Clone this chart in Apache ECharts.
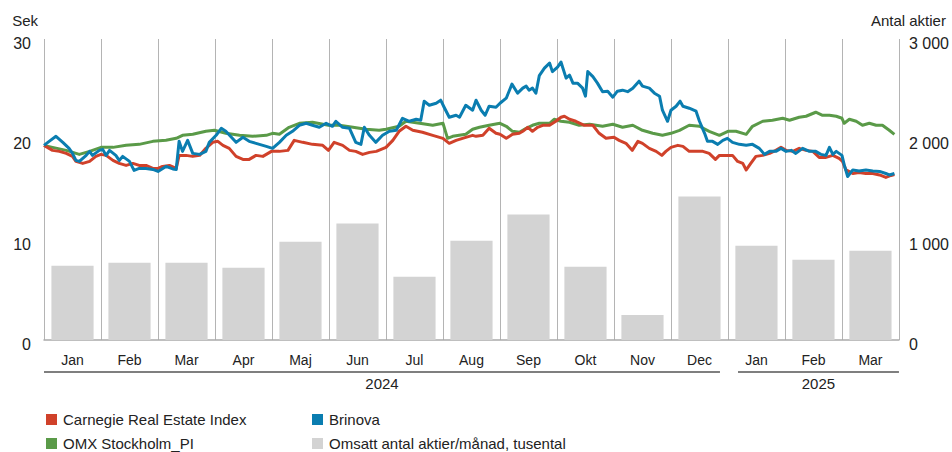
<!DOCTYPE html>
<html>
<head>
<meta charset="utf-8">
<script src="https://cdn.jsdelivr.net/npm/echarts@6/dist/echarts.min.js"></script>
<style>
html,body{margin:0;padding:0;background:#fff;}
#c{width:952px;height:452px;}
</style>
</head>
<body>
<div id="c"></div>
<script>
// ---- Data ----
const months = ['Jan','Feb','Mar','Apr','Maj','Jun','Jul','Aug','Sep','Okt','Nov','Dec','Jan','Feb','Mar'];
const years = [{label:'2024', from:0, to:12}, {label:'2025', from:12, to:15}];
const leftTicks = [0, 10, 20, 30];
const rightTicks = [0, 1000, 2000, 3000];
// Monthly turnover, thousands of shares
const volume = [740, 770, 770, 720, 980, 1160, 630, 990, 1250, 730, 250, 1430, 940, 800, 890];
// [months since 1 Jan 2024, SEK]
const carnegie = [[0,19.4],[0.15,18.9],[0.27,18.8],[0.39,18.6],[0.50,18.3],[0.56,17.8],[0.68,17.6],[0.80,17.8],[0.91,18.3],[1.0,18.5],[1.09,18.4],[1.21,17.9],[1.32,17.6],[1.44,17.4],[1.56,17.6],[1.67,17.4],[1.79,17.4],[1.91,17.1],[2.0,17.1],[2.08,17.3],[2.20,17.4],[2.32,17.1],[2.37,18.4],[2.49,18.4],[2.61,18.3],[2.73,18.4],[2.84,19.1],[2.96,19.7],[3.05,19.8],[3.14,19.4],[3.25,19.1],[3.37,18.3],[3.49,18.0],[3.60,18.0],[3.72,18.4],[3.84,18.3],[3.99,18.8],[4.13,18.8],[4.28,18.9],[4.39,19.9],[4.54,19.7],[4.71,19.5],[4.89,19.4],[4.99,18.9],[5.09,19.7],[5.24,19.4],[5.36,18.9],[5.47,18.8],[5.59,18.5],[5.71,18.7],[5.83,18.8],[6.0,19.2],[6.12,19.9],[6.23,20.8],[6.35,21.3],[6.47,20.9],[6.64,20.7],[6.82,20.4],[7.0,20.1],[7.11,19.6],[7.23,19.9],[7.40,20.2],[7.52,20.4],[7.58,20.3],[7.70,20.4],[7.81,21.1],[7.93,20.6],[8.0,20.5],[8.11,20.1],[8.22,20.5],[8.34,20.6],[8.40,20.8],[8.49,21.2],[8.57,20.8],[8.66,21.2],[8.75,21.4],[8.87,21.4],[8.98,21.8],[9.07,22.2],[9.13,22.3],[9.22,22.0],[9.33,21.8],[9.48,21.4],[9.63,21.4],[9.74,20.6],[9.86,20.1],[10.0,20.2],[10.09,19.9],[10.21,19.6],[10.32,18.9],[10.42,19.8],[10.50,19.6],[10.62,19.1],[10.74,18.8],[10.84,18.4],[10.91,18.8],[11.0,19.2],[11.12,19.4],[11.21,19.3],[11.32,18.8],[11.44,18.8],[11.56,18.8],[11.67,18.6],[11.78,18.0],[11.85,18.4],[12.0,18.4],[12.08,18.4],[12.17,17.8],[12.26,17.6],[12.32,16.95],[12.40,17.6],[12.49,18.3],[12.61,18.4],[12.73,18.6],[12.84,18.9],[12.93,19.2],[13.02,18.9],[13.14,18.8],[13.25,19.1],[13.37,18.9],[13.49,18.8],[13.60,18.2],[13.72,18.2],[13.84,18.4],[13.95,18.1],[14.01,17.8],[14.07,16.95],[14.19,16.6],[14.30,16.7],[14.42,16.6],[14.54,16.6],[14.66,16.45],[14.77,16.2],[14.86,16.4],[14.92,16.5]];
const omx = [[0,19.4],[0.15,19.2],[0.39,18.9],[0.62,18.5],[0.80,18.8],[1.0,19.2],[1.21,19.2],[1.44,19.4],[1.67,19.5],[1.91,19.8],[2.14,19.9],[2.32,20.1],[2.43,20.4],[2.61,20.5],[2.84,20.8],[2.99,20.9],[3.19,20.6],[3.43,20.4],[3.66,20.3],[3.90,20.4],[4.01,20.6],[4.13,20.5],[4.30,21.2],[4.48,21.6],[4.71,21.7],[4.99,21.4],[5.18,21.4],[5.42,21.2],[5.65,21.0],[5.88,20.9],[6.0,21.0],[6.23,21.3],[6.35,21.8],[6.59,21.6],[6.82,21.4],[7.0,21.6],[7.08,20.1],[7.17,20.3],[7.40,20.5],[7.52,21.0],[7.64,21.2],[7.81,21.4],[8.0,21.6],[8.11,21.3],[8.22,20.8],[8.34,20.7],[8.46,21.1],[8.57,21.4],[8.69,21.6],[8.87,21.6],[8.95,22.0],[9.07,21.8],[9.22,21.7],[9.39,21.4],[9.57,21.5],[9.80,21.3],[9.98,21.5],[10.15,21.2],[10.33,21.4],[10.50,20.9],[10.68,20.6],[10.85,20.4],[11.0,20.6],[11.15,20.9],[11.32,21.4],[11.50,21.3],[11.67,20.8],[11.85,20.4],[12.0,20.8],[12.14,20.8],[12.32,20.5],[12.43,21.3],[12.61,21.8],[12.78,21.9],[12.96,22.1],[13.08,21.9],[13.25,22.2],[13.37,22.3],[13.54,22.7],[13.66,22.4],[13.78,22.4],[13.90,22.3],[14.0,22.1],[14.04,21.6],[14.13,22.0],[14.25,21.8],[14.36,21.4],[14.48,21.6],[14.60,21.4],[14.71,21.4],[14.83,20.9],[14.92,20.5]];
const brinova = [[0,19.4],[0.09,19.8],[0.21,20.3],[0.33,19.7],[0.44,19.1],[0.50,18.6],[0.56,17.9],[0.62,17.8],[0.74,18.4],[0.80,18.8],[0.85,18.4],[0.97,18.9],[1.03,19.0],[1.09,18.4],[1.15,18.9],[1.26,18.4],[1.32,17.9],[1.38,18.3],[1.50,17.8],[1.58,16.9],[1.67,17.1],[1.79,17.1],[1.91,17.0],[2.0,16.8],[2.14,17.3],[2.26,17.05],[2.32,17.0],[2.37,19.8],[2.43,18.8],[2.52,19.9],[2.61,18.6],[2.73,18.5],[2.84,18.8],[2.90,19.7],[3.02,20.4],[3.11,21.1],[3.19,20.8],[3.37,19.7],[3.49,20.2],[3.60,19.8],[3.72,19.6],[3.90,19.3],[4.01,19.1],[4.13,19.7],[4.25,20.4],[4.36,20.8],[4.48,21.4],[4.60,21.6],[4.71,21.4],[4.83,21.2],[4.95,21.6],[5.06,21.3],[5.12,21.8],[5.24,21.2],[5.36,21.1],[5.47,19.7],[5.56,19.5],[5.62,21.2],[5.71,20.4],[5.82,19.7],[5.94,20.4],[6.06,20.8],[6.18,20.9],[6.29,22.1],[6.41,21.8],[6.53,22.0],[6.61,21.9],[6.67,23.8],[6.76,23.4],[6.88,23.6],[6.96,23.9],[7.02,23.2],[7.11,22.2],[7.23,22.4],[7.29,22.2],[7.40,23.4],[7.52,22.9],[7.58,23.9],[7.67,22.9],[7.74,22.4],[7.81,23.3],[7.93,23.2],[8.0,23.6],[8.11,24.1],[8.21,25.5],[8.31,24.6],[8.40,25.1],[8.46,25.3],[8.51,24.9],[8.57,25.1],[8.63,24.6],[8.69,26.35],[8.78,27.1],[8.87,27.6],[8.92,26.75],[9.01,27.2],[9.07,27.7],[9.16,26.1],[9.22,26.4],[9.28,25.6],[9.36,25.6],[9.45,25.1],[9.50,24.3],[9.54,26.75],[9.63,26.25],[9.71,25.6],[9.80,24.75],[9.89,24.8],[9.98,24.2],[10.06,24.8],[10.15,24.9],[10.24,24.75],[10.33,25.1],[10.44,25.8],[10.50,25.3],[10.62,25.1],[10.71,24.6],[10.80,24.3],[10.85,22.9],[10.94,21.8],[11.0,22.9],[11.09,23.3],[11.16,23.8],[11.21,23.3],[11.32,23.1],[11.44,22.8],[11.50,21.8],[11.59,20.6],[11.64,19.8],[11.73,19.8],[11.82,19.5],[11.91,19.9],[11.99,20.1],[12.08,19.7],[12.20,19.5],[12.32,19.4],[12.43,19.5],[12.55,19.1],[12.64,18.5],[12.73,18.8],[12.84,18.8],[12.93,19.1],[13.02,18.8],[13.11,18.9],[13.19,18.6],[13.31,19.1],[13.43,18.8],[13.54,18.8],[13.63,18.5],[13.72,18.4],[13.78,19.2],[13.84,18.5],[13.90,18.8],[13.95,18.6],[14.0,18.4],[14.04,17.45],[14.10,16.3],[14.19,16.95],[14.30,16.85],[14.42,16.95],[14.54,16.85],[14.66,16.8],[14.77,16.6],[14.83,16.45],[14.92,16.6]];

const names = {
  carnegie: 'Carnegie Real Estate Index',
  brinova: 'Brinova',
  omx: 'OMX Stockholm_PI',
  volume: 'Omsatt antal aktier/månad, tusental'
};
const colors = { carnegie:'#d0412a', brinova:'#0a7db0', omx:'#5a9a48', volume:'#d3d3d3' };

// ---- Chart ----
const FONT = 'Liberation Sans, Arial, sans-serif';
const chart = echarts.init(document.getElementById('c'), null, {renderer:'svg'});
const legendItem = (name, left, top) => ({
  data: [name], left, top, padding: 0, itemGap: 0,
  itemWidth: 11, itemHeight: 11, icon: 'rect',
  textStyle: {fontFamily: FONT, fontSize: 15, color: '#222', padding: [0,0,0,1]},
  selectedMode: false
});
const lineSeries = (key, z) => ({
  name: names[key], type: 'line', data: key === 'carnegie' ? carnegie : key === 'omx' ? omx : brinova,
  xAxisIndex: 1, yAxisIndex: 0, showSymbol: false, symbol: 'none', z,
  lineStyle: {color: colors[key], width: 3, join: 'round'},
  itemStyle: {color: colors[key]},
  animation: false
});
chart.setOption({
  animation: false,
  textStyle: {fontFamily: FONT},
  grid: {left: 44, right: 53, top: 39, bottom: 112, containLabel: false},
  legend: [
    legendItem(names.carnegie, 46, 412),
    legendItem(names.brinova, 312, 412),
    legendItem(names.omx, 46, 436),
    legendItem(names.volume, 312, 436)
  ],
  xAxis: [
    {
      type: 'category', data: months, boundaryGap: true,
      axisLine: {show: true, lineStyle: {color: '#aaaaaa', width: 1.5}},
      axisTick: {show: false},
      axisLabel: {fontFamily: FONT, fontSize: 14, color: '#222', margin: 13, interval: 0},
      splitLine: {show: true, interval: 0, lineStyle: {color: '#b4b4b4', width: 1}}
    },
    {type: 'value', min: 0, max: 15, show: false}
  ],
  yAxis: [
    {
      type: 'value', min: leftTicks[0], max: leftTicks[leftTicks.length-1], interval: 10,
      name: 'Sek', nameLocation: 'end', nameGap: 11,
      nameTextStyle: {fontFamily: FONT, fontSize: 15, color: '#222', align: 'right', padding: [0, 6, 0, 0]},
      axisLine: {show: false}, axisTick: {show: false}, splitLine: {show: false},
      axisLabel: {fontFamily: FONT, fontSize: 16, color: '#222', margin: 13, verticalAlign: 'top', lineHeight: 9}
    },
    {
      type: 'value', min: rightTicks[0], max: rightTicks[rightTicks.length-1], interval: 1000,
      position: 'right',
      name: 'Antal aktier', nameLocation: 'end', nameGap: 11,
      nameTextStyle: {fontFamily: FONT, fontSize: 15, color: '#222', align: 'right', padding: [0, -47, 0, 0]},
      axisLine: {show: false}, axisTick: {show: false}, splitLine: {show: false},
      axisLabel: {fontFamily: FONT, fontSize: 16, color: '#222', margin: 10, verticalAlign: 'top', lineHeight: 9,
        formatter: v => v === 0 ? '0' : (v / 1000) + ' 000'}
    }
  ],
  series: [
    {
      name: names.volume, type: 'bar', data: volume, xAxisIndex: 0, yAxisIndex: 1,
      barCategoryGap: '26%', itemStyle: {color: colors.volume}, z: 1
    },
    lineSeries('omx', 3),
    lineSeries('carnegie', 4),
    lineSeries('brinova', 5)
  ]
});

// Year brackets below month labels, positioned via the axis scale
const px = v => chart.convertToPixel({xAxisIndex: 1}, v);
const graphics = [];
years.forEach((y, i) => {
  const x0 = px(y.from) + (i === 0 ? 0 : 10);
  const x1 = px(y.to) - (i === years.length - 1 ? 0 : 8);
  graphics.push({type: 'line', shape: {x1: x0, y1: 372, x2: x1, y2: 372}, style: {stroke: '#555', lineWidth: 1.5}, silent: true});
  graphics.push({type: 'text', x: (x0 + x1) / 2, y: 383, style: {text: y.label, font: '15px ' + FONT, fill: '#222', textAlign: 'center', textVerticalAlign: 'middle'}, silent: true});
});
chart.setOption({graphic: graphics});
</script>
</body>
</html>
